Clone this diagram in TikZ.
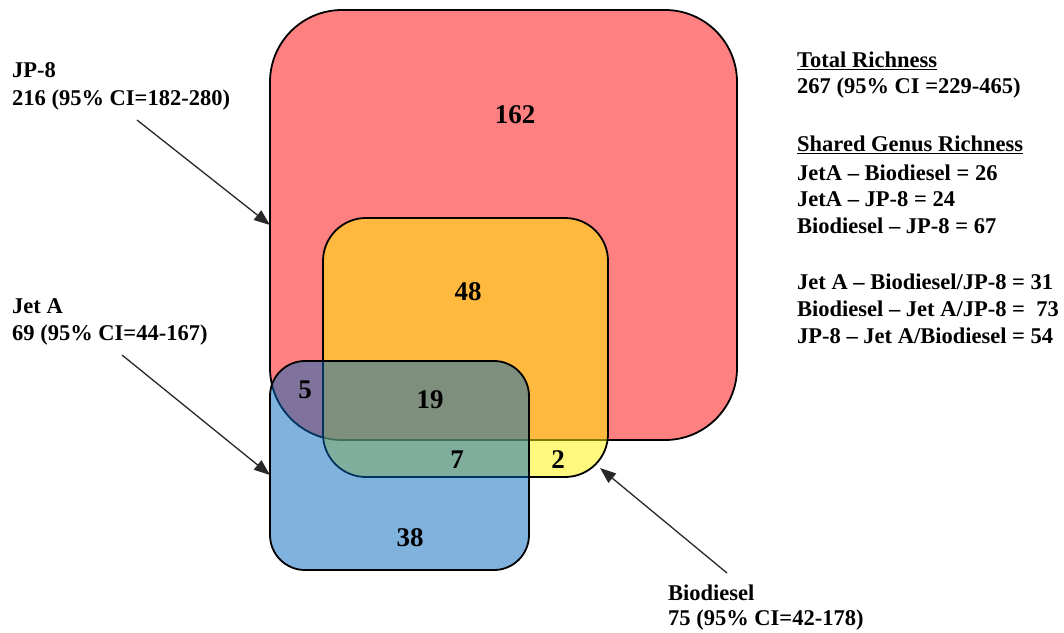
\documentclass[tikz,border=0pt]{standalone}
\usepackage{fontspec}
\setmainfont{Liberation Serif}
\usetikzlibrary{arrows.meta}
\definecolor{redfill}{RGB}{255,128,128}
\definecolor{bluefill}{RGB}{0,102,187}
\definecolor{arrowgray}{RGB}{40,40,40}
\begin{document}
\begin{tikzpicture}[x=1pt,y=-1pt,
  venn/.style={draw=black, line width=1.8pt, inner sep=0pt, outer sep=0pt},
  count/.style={font=\fontsize{27}{30}\selectfont\bfseries, inner sep=0pt},
  lbl/.style={font=\fontsize{22.5}{26.5}\selectfont\bfseries, anchor=west, inner sep=0pt},
  pointer/.style={draw=arrowgray, line width=1.3pt, -{Triangle[length=16pt,width=12pt]}}]
\useasboundingbox (0,0) rectangle (1064,632);

% sets
\node[venn, fill=redfill, rounded corners=72pt, minimum width=467pt, minimum height=430pt] (jp8) at (503.5,225) {};
\node[venn, fill=yellow, fill opacity=0.5, rounded corners=43pt, minimum width=285pt, minimum height=259pt] (bio) at (465.5,347.5) {};
\node[venn, fill=bluefill, fill opacity=0.5, rounded corners=35pt, minimum width=259pt, minimum height=209pt] (jeta) at (399.5,465.5) {};

% counts
\node[count] (n162) at (515,115) {162};
\node[count] (n48) at (468,292) {48};
\node[count] (n5) at (305,390) {5};
\node[count] (n19) at (430,400) {19};
\node[count] (n7) at (457,460) {7};
\node[count] (n2) at (558,460) {2};
\node[count] (n38) at (410,538) {38};

% set labels
\node[lbl] (ljp8a) at (12,70) {JP-8};
\node[lbl] (ljp8b) at (12,100) {216 (95\% CI=182-280)};
\node[lbl] (ljetaa) at (12,306) {Jet A};
\node[lbl] (ljetab) at (12,335) {69 (95\% CI=44-167)};
\node[lbl] (lbioa) at (668,593) {Biodiesel};
\node[lbl] (lbiob) at (668,620) {75 (95\% CI=42-178)};

% pointers
\coordinate (jp8from) at (137,120);
\coordinate (jp8tip) at (270,225);
\coordinate (jetafrom) at (122,355);
\coordinate (jetatip) at (270,475);
\coordinate (biofrom) at (727,573);
\coordinate (biotip) at (600,468);
\draw[pointer] (jp8from) -- (jp8tip);
\draw[pointer] (jetafrom) -- (jetatip);
\draw[pointer] (biofrom) -- (biotip);

% summary
\node[lbl] (t1) at (797,61) {\underline{Total Richness}};
\node[lbl] (t2) at (797,88) {267 (95\% CI =229-465)};
\node[lbl] (t3) at (797,145) {\underline{Shared Genus Richness}};
\node[lbl] (t4) at (797,173) {JetA – Biodiesel = 26};
\node[lbl] (t5) at (797,199) {JetA – JP-8 = 24};
\node[lbl] (t6) at (797,226) {Biodiesel – JP-8 = 67};
\node[lbl] (t7) at (797,282) {Jet A – Biodiesel/JP-8 = 31};
\node[lbl] (t8) at (797,309) {Biodiesel – Jet A/JP-8 =\ \ 73};
\node[lbl] (t9) at (797,336) {JP-8 – Jet A/Biodiesel = 54};
\end{tikzpicture}
\end{document}
